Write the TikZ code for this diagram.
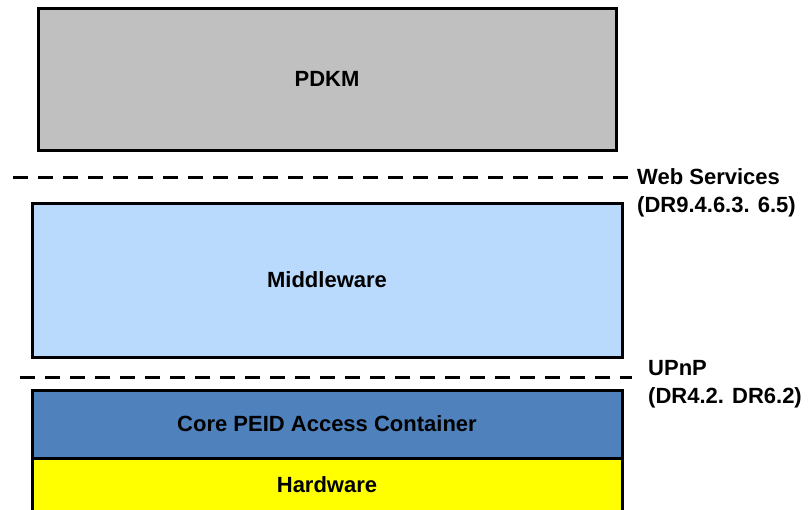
\documentclass[tikz,border=0pt]{standalone}
\usepackage{fontspec}
\setmainfont{Liberation Sans}
\definecolor{pdkmgray}{RGB}{192,192,192}
\definecolor{mwblue}{RGB}{185,218,252}
\definecolor{coreblue}{RGB}{79,129,189}
\definecolor{hwyellow}{RGB}{255,255,0}
\tikzset{
	layer/.style={draw=black, line width=3pt, minimum width=590pt, inner sep=0pt, font=\bfseries\fontsize{22}{26}\selectfont},
	sep/.style={line width=3pt, dash pattern=on 15pt off 10pt},
	iface/.style={anchor=north west, align=left, inner sep=0pt, font=\bfseries\fontsize{22}{28}\selectfont}
}
\begin{document}
\begin{tikzpicture}[x=1pt,y=-1pt]
		\useasboundingbox (0,0) rectangle (810,509);
		%Schichten
		\node[layer, fill=pdkmgray, minimum width=578pt, minimum height=142pt] (pdkm) at (327,79) {PDKM};
		\node[layer, fill=mwblue, minimum height=154pt] (mw) at (327,280) {Middleware};
		\node[layer, fill=hwyellow, minimum height=58pt] (hw) at (327,487) {\raisebox{4pt}{Hardware}};
		\node[layer, fill=coreblue, minimum height=68pt] (core) at (327,424) {Core PEID Access Container};
		%Schnittstellen
		\coordinate (ws1) at (13,177);
		\coordinate (ws2) at (632,177);
		\coordinate (up1) at (20,377);
		\coordinate (up2) at (632,377);
		\draw[sep] (ws1) -- (ws2);
		\draw[sep] (up1) -- (up2);
		\node[iface] (ws) at (637,168) {Web Services\\(DR9.4.6.3. 6.5)};
		\node[iface] (upnp) at (648,360) {UPnP\\(DR4.2. DR6.2)};
\end{tikzpicture}
\end{document}
